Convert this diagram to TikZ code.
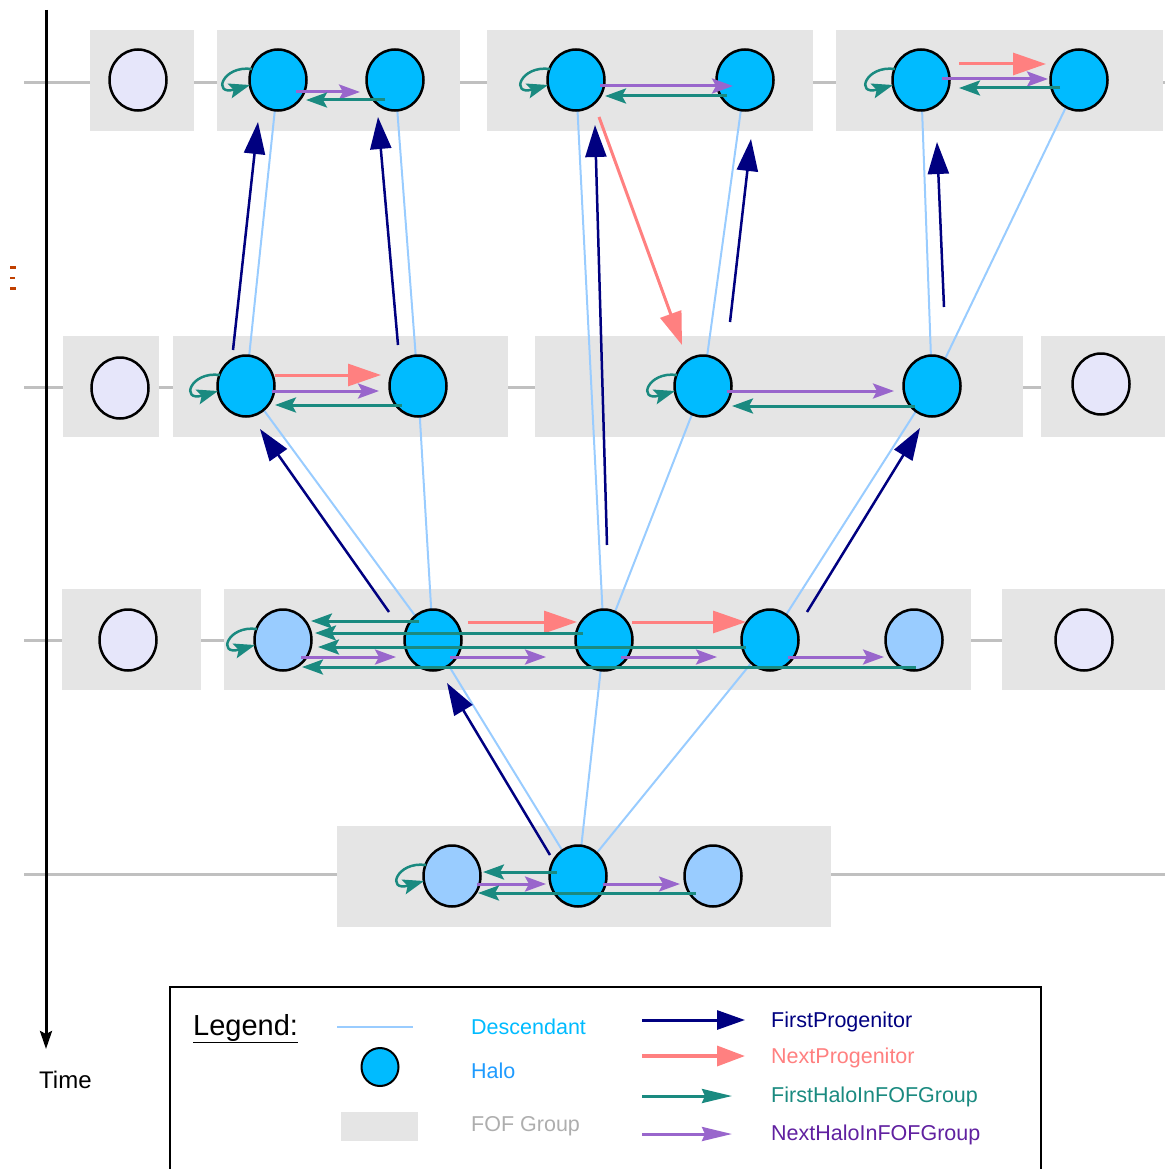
\documentclass[tikz,border=0pt]{standalone}
\usepackage{fontspec}
\setmainfont{Liberation Sans}
\usetikzlibrary{arrows.meta,shapes.geometric}
\definecolor{haloc}{HTML}{00BBFF}
\definecolor{satc}{HTML}{99CCFF}
\definecolor{lavc}{HTML}{E6E6FA}
\definecolor{fofc}{HTML}{E5E5E5}
\definecolor{tlc}{HTML}{C0C0C0}
\definecolor{descc}{HTML}{99CCFF}
\definecolor{navyc}{HTML}{000080}
\definecolor{salmonc}{HTML}{FF8080}
\definecolor{tealc}{HTML}{1A8A80}
\definecolor{purplec}{HTML}{9966CC}
\definecolor{purpletext}{HTML}{6020A0}
\definecolor{desctext}{HTML}{00BBFF}
\definecolor{halotext}{HTML}{1E9BFF}
\definecolor{foftext}{HTML}{AEAEAE}
\definecolor{dotc}{HTML}{C04000}
\pgfdeclarelayer{bg}
\pgfdeclarelayer{mid}
\pgfdeclarelayer{front}
\pgfsetlayers{bg,mid,main,front}
\tikzset{
  halo/.style={ellipse, draw=black, line width=2.5pt, fill=haloc, minimum width=57pt, minimum height=61pt, inner sep=0pt},
  sat/.style={halo, fill=satc},
  lav/.style={halo, fill=lavc},
  fof/.style={fill=fofc, draw=none},
  tline/.style={line width=3pt, color=tlc},
  desc/.style={line width=2pt, color=descc},
  fprog/.style={line width=2.5pt, color=navyc, -{Triangle[length=32pt,width=21pt]}},
  nprog/.style={line width=3pt, color=salmonc, -{Triangle[length=33pt,width=22pt]}},
  fhalo/.style={line width=3pt, color=tealc, -{Stealth[length=21pt,width=15pt,inset=4pt]}},
  nhalo/.style={line width=3pt, color=purplec, -{Stealth[length=21pt,width=15pt,inset=4pt]}},
  legtext/.style={anchor=west, font=\fontsize{21.5}{25}\selectfont, inner sep=0pt},
}
\newcommand{\hloop}[1]{\draw[fhalo, line width=2.5pt] ([shift={(-26,-11)}]#1.center) .. controls ([shift={(-56,-15)}]#1.center) and ([shift={(-66,16)}]#1.center) .. ([shift={(-28,5)}]#1.center);}
\begin{document}
\begin{tikzpicture}[x=1pt,y=-1pt]
\useasboundingbox (0,0) rectangle (1165,1169);
% background: timelines and FOF groups
\begin{pgfonlayer}{bg}
  \draw[tline] (24,83) -- (1165,83);
  \draw[tline] (24,387) -- (1165,387);
  \draw[tline] (24,640) -- (1165,640);
  \draw[tline] (24,874) -- (1165,874);
  \fill[fof] (90,30) rectangle (194,131);
  \fill[fof] (217,30) rectangle (460,131);
  \fill[fof] (487,30) rectangle (813,131);
  \fill[fof] (836,30) rectangle (1163,131);
  \fill[fof] (63,336) rectangle (159,437);
  \fill[fof] (173,336) rectangle (508,437);
  \fill[fof] (535,336) rectangle (1023,437);
  \fill[fof] (1041,336) rectangle (1165,437);
  \fill[fof] (62,589) rectangle (201,690);
  \fill[fof] (224,589) rectangle (971,690);
  \fill[fof] (1002,589) rectangle (1165,690);
  \fill[fof] (337,826) rectangle (831,927);
\end{pgfonlayer}
% time axis
\coordinate (t0) at (46,10);
\coordinate (t1) at (46,1049);
\draw[line width=3pt, -{Stealth[length=18pt,width=12pt,inset=3pt]}] (t0) -- (t1);
\node[anchor=west, font=\fontsize{24}{28}\selectfont, inner sep=0pt] (time) at (39,1080) {Time};
% vertical dots
\fill[dotc] (10,266) rectangle (16,268.5);
\fill[dotc] (10,276.5) rectangle (15,279);
\fill[dotc] (10,287) rectangle (16,289.5);
% halos
\node[lav] (A1) at (138,80) {};
\node[halo] (B1) at (278,80) {};
\node[halo] (B2) at (395,80) {};
\node[halo] (C1) at (576,80) {};
\node[halo] (C2) at (745,80) {};
\node[halo] (D1) at (921,80) {};
\node[halo] (D2) at (1079,80) {};
\node[lav] (E1) at (120,388) {};
\node[halo] (F1) at (246,386) {};
\node[halo] (F2) at (418,386) {};
\node[halo] (G1) at (703,386) {};
\node[halo] (G2) at (932,386) {};
\node[lav] (H1) at (1101,384) {};
\node[lav] (I1) at (128,640) {};
\node[sat] (J1) at (283,640) {};
\node[halo] (J2) at (433,640) {};
\node[halo] (J3) at (604,640) {};
\node[halo] (J4) at (770,640) {};
\node[sat] (J5) at (914,640) {};
\node[lav] (K1) at (1084,640) {};
\node[sat] (L1) at (452,876) {};
\node[halo] (L2) at (578,876) {};
\node[sat] (L3) at (713,876) {};
% descendant links
\begin{pgfonlayer}{mid}
  \draw[desc] (B1.center) -- (F1.center);
  \draw[desc] (B2.center) -- (F2.center);
  \draw[desc] (C1.center) -- (J3.center);
  \draw[desc] (C2.center) -- (G1.center);
  \draw[desc] (D1.center) -- (G2.center);
  \draw[desc] (D2.center) -- (G2.center);
  \draw[desc] (F1.center) -- (J2.center);
  \draw[desc] (F2.center) -- (J2.center);
  \draw[desc] (G1.center) -- (J3.center);
  \draw[desc] (G2.center) -- (J4.center);
  \draw[desc] (J2.center) -- (L2.center);
  \draw[desc] (J3.center) -- (L2.center);
  \draw[desc] (J4.center) -- (L2.center);
\end{pgfonlayer}
\begin{pgfonlayer}{front}
% first progenitor
\draw[fprog] ([shift={(-13,-36)}]F1.center) -- ([shift={(-20,42)}]B1.center);
\draw[fprog] ([shift={(-20,-41)}]F2.center) -- ([shift={(-17,37)}]B2.center);
\draw[fprog] ([shift={(3,-95)}]J3.center) -- ([shift={(19,45)}]C1.center);
\draw[fprog] ([shift={(27,-64)}]G1.center) -- ([shift={(6,59)}]C2.center);
\draw[fprog] ([shift={(12,-79)}]G2.center) -- ([shift={(16,62)}]D1.center);
\draw[fprog] ([shift={(-44,-28)}]J2.center) -- ([shift={(14,43)}]F1.center);
\draw[fprog] ([shift={(37,-28)}]J4.center) -- ([shift={(-12,42)}]G2.center);
\draw[fprog] ([shift={(-28,-21)}]L2.center) -- ([shift={(14,43)}]J2.center);
% next progenitor
\draw[nprog] ([shift={(23,37)}]C1.center) -- ([shift={(-21,-41)}]G1.center);
\draw[nprog] ([shift={(38,-16)}]D1.center) -- ([shift={(-33,-16)}]D2.center);
\draw[nprog] ([shift={(29,-11)}]F1.center) -- ([shift={(-37,-11)}]F2.center);
\draw[nprog] ([shift={(35,-18)}]J2.center) -- ([shift={(-27,-18)}]J3.center);
\draw[nprog] ([shift={(28,-18)}]J3.center) -- ([shift={(-24,-18)}]J4.center);
% group B
\draw[nhalo] ([shift={(18,12)}]B1.center) -- ([shift={(-35,12)}]B2.center);
\draw[fhalo] ([shift={(-10,20)}]B2.center) -- ([shift={(28,20)}]B1.center);
% group C
\draw[nhalo] ([shift={(24,6)}]C1.center) -- ([shift={(-12,6)}]C2.center);
\draw[fhalo] ([shift={(-18,16)}]C2.center) -- ([shift={(29,16)}]C1.center);
% group D
\draw[nhalo] ([shift={(21,-1)}]D1.center) -- ([shift={(-31,-1)}]D2.center);
\draw[fhalo] ([shift={(-19,8)}]D2.center) -- ([shift={(38,8)}]D1.center);
% group F
\draw[nhalo] ([shift={(26,5)}]F1.center) -- ([shift={(-39,5)}]F2.center);
\draw[fhalo] ([shift={(-16,19)}]F2.center) -- ([shift={(29,19)}]F1.center);
% group G
\draw[nhalo] ([shift={(24,5)}]G1.center) -- ([shift={(-38,5)}]G2.center);
\draw[fhalo] ([shift={(-17,20)}]G2.center) -- ([shift={(29,20)}]G1.center);
% group J
\draw[fhalo] ([shift={(-14,-19)}]J2.center) -- ([shift={(28,-19)}]J1.center);
\draw[fhalo] ([shift={(-21,-7)}]J3.center) -- ([shift={(32,-7)}]J1.center);
\draw[fhalo] ([shift={(-24,7)}]J4.center) -- ([shift={(35,7)}]J1.center);
\draw[fhalo] ([shift={(2,27)}]J5.center) -- ([shift={(19,27)}]J1.center);
\draw[nhalo] ([shift={(18,17)}]J1.center) -- ([shift={(-37,17)}]J2.center);
\draw[nhalo] ([shift={(17,17)}]J2.center) -- ([shift={(-58,17)}]J3.center);
\draw[nhalo] ([shift={(17,17)}]J3.center) -- ([shift={(-53,17)}]J4.center);
\draw[nhalo] ([shift={(18,17)}]J4.center) -- ([shift={(-30,17)}]J5.center);
% group L
\draw[fhalo] ([shift={(-21,-4)}]L2.center) -- ([shift={(31,-4)}]L1.center);
\draw[nhalo] ([shift={(25,8)}]L1.center) -- ([shift={(-32,8)}]L2.center);
\draw[nhalo] ([shift={(25,8)}]L2.center) -- ([shift={(-33,8)}]L3.center);
\draw[fhalo] ([shift={(-17,17)}]L3.center) -- ([shift={(26,17)}]L1.center);
% self loops
\hloop{B1}
\hloop{C1}
\hloop{D1}
\hloop{F1}
\hloop{G1}
\hloop{J1}
\hloop{L1}
\end{pgfonlayer}
% legend
\draw[line width=2pt] (170,1172) |- (1041,987) -- (1041,1172);
\node[anchor=base west, font=\fontsize{29}{34}\selectfont, inner sep=0pt] (lg) at (193,1035) {\underline{Legend:}};
\coordinate (ld1) at (337,1027);
\coordinate (ld2) at (413,1027);
\draw[desc] (ld1) -- (ld2);
\node[halo, minimum width=37pt, minimum height=38pt, line width=2pt] (lh) at (380,1067) {};
\node[fof, minimum width=77pt, minimum height=29pt, inner sep=0pt] (lf) at (379.5,1126) {};
\node[legtext, text=desctext] (t1n) at (471,1027) {Descendant};
\node[legtext, text=halotext] (t2n) at (471,1071) {Halo};
\node[legtext, text=foftext] (t3n) at (471,1126) {FOF Group};
\coordinate (la1) at (642,1020);
\coordinate (lb1) at (745,1020);
\coordinate (la2) at (642,1056);
\coordinate (lb2) at (745,1056);
\coordinate (la3) at (642,1096);
\coordinate (lb3) at (732,1096);
\coordinate (la4) at (642,1134);
\coordinate (lb4) at (732,1134);
\draw[line width=3pt, navyc, -{Triangle[length=28pt,width=19pt]}] (la1) -- (lb1);
\draw[line width=3.5pt, salmonc, -{Triangle[length=28pt,width=20pt]}] (la2) -- (lb2);
\draw[line width=3pt, tealc, -{Stealth[length=30pt,width=14pt,inset=3pt]}] (la3) -- (lb3);
\draw[line width=3pt, purplec, -{Stealth[length=30pt,width=14pt,inset=3pt]}] (la4) -- (lb4);
\node[legtext, text=navyc] (t4n) at (771,1022) {FirstProgenitor};
\node[legtext, text=salmonc] (t5n) at (771,1058) {NextProgenitor};
\node[legtext, text=tealc] (t6n) at (771,1097) {FirstHaloInFOFGroup};
\node[legtext, text=purpletext] (t7n) at (771,1135) {NextHaloInFOFGroup};
\end{tikzpicture}
\end{document}
